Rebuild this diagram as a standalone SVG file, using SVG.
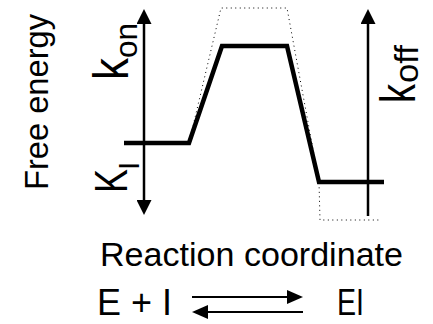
<svg xmlns="http://www.w3.org/2000/svg" width="433" height="324" viewBox="0 0 433 324">
<style>
text { font-family: "Liberation Sans", Arial, sans-serif; fill: #000; }
.axis { stroke: #000; stroke-width: 2.5; fill: none; }
.eq { stroke: #000; stroke-width: 2.2; fill: none; }
.level { stroke: #000; stroke-width: 4.5; fill: none; stroke-linejoin: miter; }
.dotted { stroke: #000; stroke-width: 1; fill: none; stroke-dasharray: 1 3.5; }
</style>
<defs>
<marker id="ah" markerUnits="userSpaceOnUse" markerWidth="15" markerHeight="15" refX="0" refY="7.5" orient="auto-start-reverse">
<path d="M0,0 L15,7.5 L0,15 z" fill="#000"/>
</marker>
<marker id="ah2" markerUnits="userSpaceOnUse" markerWidth="16" markerHeight="14" refX="0" refY="7" orient="auto">
<path d="M0,0 L16,7 L0,14 z" fill="#000"/>
</marker>
</defs>
<g id="connectors">
<line class="axis" x1="144" y1="24" x2="144" y2="200" marker-start="url(#ah)" marker-end="url(#ah)"/>
<line class="axis" x1="368" y1="216" x2="368" y2="24" marker-end="url(#ah)"/>
<line class="eq" x1="192" y1="297" x2="287" y2="297" marker-end="url(#ah2)"/>
<line class="eq" x1="303" y1="312" x2="208" y2="312" marker-end="url(#ah2)"/>
</g>
<g id="energy-profile">
<path class="dotted" d="M189,143 L221,8 L287,8 L319,182 L320,220 L379,220"/>
<path class="level" d="M124,143 L189,143 L222,46 L287,46 L319,182 L384,182"/>
</g>
<g id="label-free-energy">
<text transform="translate(48,190) rotate(-90)" font-size="34" textLength="176" lengthAdjust="spacingAndGlyphs">Free energy</text>
</g>
<g id="label-kon">
<text transform="translate(128,80) rotate(-90)" font-size="50" textLength="22" lengthAdjust="spacingAndGlyphs">k</text>
<text transform="translate(137,58) rotate(-90)" font-size="32" textLength="35" lengthAdjust="spacingAndGlyphs">on</text>
</g>
<g id="label-ki">
<text transform="translate(127,193) rotate(-90)" font-size="47" textLength="24" lengthAdjust="spacingAndGlyphs">K</text>
<text transform="translate(139,170) rotate(-90)" font-size="30">I</text>
</g>
<g id="label-koff">
<text transform="translate(415,103) rotate(-90)" font-size="50" textLength="19" lengthAdjust="spacingAndGlyphs">k</text>
<text transform="translate(418,83) rotate(-90)" font-size="33" textLength="38" lengthAdjust="spacingAndGlyphs">off</text>
</g>
<g id="label-reaction-coordinate">
<text x="100" y="266" font-size="34" textLength="303" lengthAdjust="spacingAndGlyphs">Reaction coordinate</text>
</g>
<g id="equation">
<text x="97" y="315" font-size="37" textLength="75" lengthAdjust="spacingAndGlyphs">E + I</text>
<text x="337" y="315" font-size="37" textLength="27" lengthAdjust="spacingAndGlyphs">EI</text>
</g>
</svg>
